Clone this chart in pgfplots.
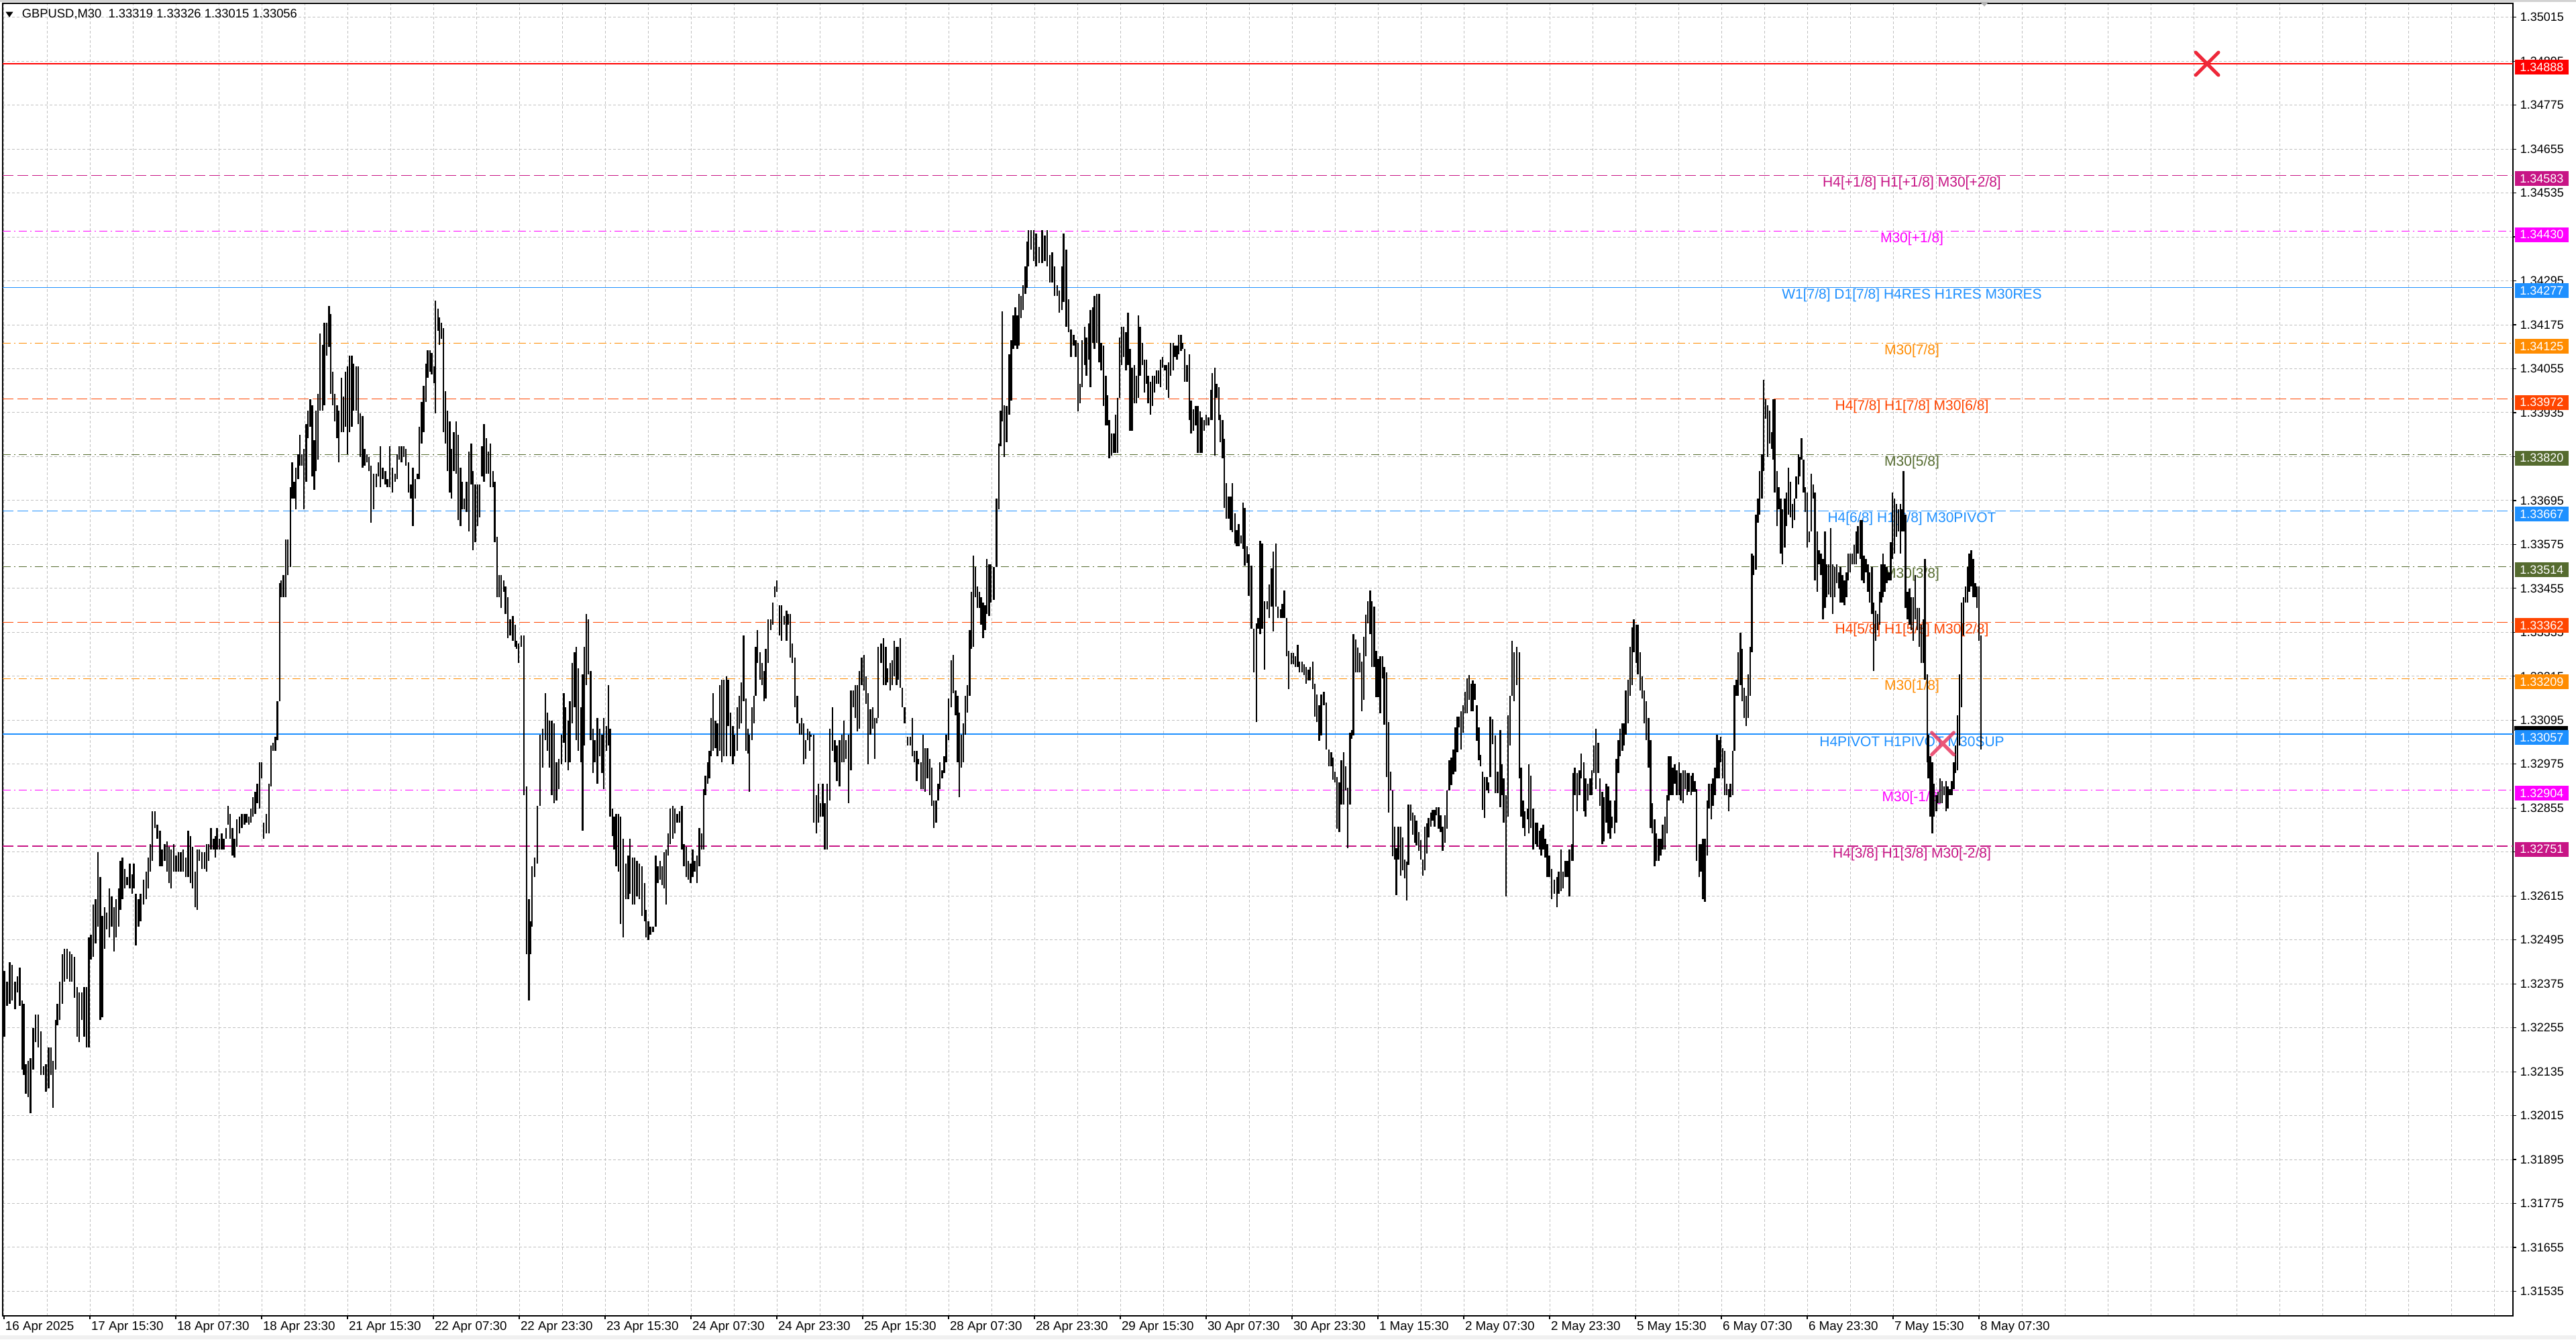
\documentclass[border=0pt]{standalone}
\usepackage{pgfplots}
\usepackage{pgfplotstable}
\pgfplotsset{compat=1.18}
\usepackage{fontspec}
\setmainfont{Liberation Sans}

\definecolor{mvr}{HTML}{C71585}
\definecolor{mag}{HTML}{FF00FF}
\definecolor{dblue}{HTML}{1E90FF}
\definecolor{dorange}{HTML}{FF8C00}
\definecolor{ored}{HTML}{FF4500}
\definecolor{dolive}{HTML}{556B2F}
\definecolor{gridc}{HTML}{C0C0C0}

\newcommand\tickfont{\fontsize{4.5}{5}\selectfont}
\newcommand\xfont{\fontsize{4.7}{5.5}\selectfont}
\newcommand\lvlfont{\fontsize{5.25}{6}\selectfont}

\tikzset{
  lvdash/.style={line width=0.28pt, dash pattern=on 4pt off 1.5pt},
  lvdot/.style={line width=0.28pt, dash pattern=on 3pt off 1.2pt on 0.6pt off 1.2pt},
  lvsolid/.style={line width=0.28pt, solid},
  pbox/.style={anchor=west, minimum width=20pt, minimum height=5.5pt, inner sep=0pt, text=white, font=\tickfont},
}

% GBPUSD M30 bars: x = bar index, hi, lo
\pgfplotstableread{
x hi lo
0.1 1.32411 1.32231
1.1 1.32381 1.32314
2.1 1.32434 1.32321
3.0 1.32426 1.32329
4.1 1.32381 1.32306
5.0 1.32396 1.32351
5.9 1.32419 1.32314
6.7 1.32329 1.32141
7.4 1.32321 1.32126
8.1 1.32156 1.32074
9.0 1.32164 1.32066
9.9 1.32171 1.32021
10.9 1.32254 1.32141
11.8 1.32291 1.32216
12.8 1.32291 1.32201
13.7 1.32246 1.32126
14.8 1.32149 1.32126
15.6 1.32156 1.32081
16.6 1.32201 1.32089
17.5 1.32201 1.32126
18.3 1.32164 1.32036
19.3 1.32276 1.32141
19.9 1.32321 1.32261
20.8 1.32381 1.32276
21.7 1.32456 1.32321
22.5 1.32471 1.32381
23.5 1.32471 1.32389
24.5 1.32464 1.32381
25.3 1.32456 1.32381
26.3 1.32449 1.32336
27.2 1.32366 1.32231
28.0 1.32351 1.32216
29.0 1.32351 1.32276
29.9 1.32366 1.32231
30.8 1.32366 1.32201
31.6 1.32501 1.32201
32.4 1.32509 1.32441
33.2 1.32591 1.32449
34.1 1.32606 1.32486
35.0 1.32734 1.32531
35.9 1.32666 1.32276
36.6 1.32561 1.32284
37.5 1.32584 1.32471
38.3 1.32569 1.32524
39.2 1.32636 1.32501
40.1 1.32614 1.32531
41.0 1.32584 1.32464
41.8 1.32606 1.32501
42.7 1.32636 1.32531
43.4 1.32711 1.32576
44.1 1.32719 1.32606
45.0 1.32689 1.32636
45.9 1.32666 1.32644
46.9 1.32704 1.32636
47.8 1.32674 1.32621
48.4 1.32704 1.32636
49.1 1.32621 1.32479
50.1 1.32606 1.32531
50.9 1.32621 1.32546
52.0 1.32659 1.32591
53.0 1.32681 1.32606
53.8 1.32719 1.32636
54.5 1.32756 1.32681
55.3 1.32846 1.32711
56.2 1.32846 1.32801
57.1 1.32809 1.32771
58.1 1.32794 1.32696
58.9 1.32741 1.32696
59.9 1.32756 1.32711
60.7 1.32764 1.32681
61.5 1.32749 1.32651
62.3 1.32741 1.32636
63.2 1.32756 1.32681
64.1 1.32726 1.32681
65.0 1.32734 1.32681
65.9 1.32734 1.32681
66.8 1.32741 1.32681
67.8 1.32719 1.32666
68.6 1.32794 1.32666
69.5 1.32779 1.32651
70.2 1.32749 1.32636
71.2 1.32681 1.32584
72.0 1.32741 1.32576
72.8 1.32741 1.32711
73.8 1.32734 1.32689
74.7 1.32734 1.32689
75.5 1.32756 1.32681
76.2 1.32756 1.32711
77.1 1.32801 1.32741
78.1 1.32771 1.32741
78.7 1.32779 1.32719
79.4 1.32801 1.32741
80.2 1.32771 1.32741
81.1 1.32786 1.32741
81.9 1.32771 1.32741
82.7 1.32801 1.32771
83.5 1.32861 1.32809
84.2 1.32839 1.32771
85.1 1.32801 1.32726
85.9 1.32771 1.32719
86.8 1.32824 1.32749
87.8 1.32831 1.32786
88.6 1.32839 1.32801
89.6 1.32839 1.32809
90.4 1.32839 1.32816
91.2 1.32831 1.32809
92.0 1.32854 1.32816
92.8 1.32884 1.32831
93.6 1.32899 1.32839
94.4 1.32921 1.32869
95.3 1.32981 1.32854
96.0 1.32981 1.32936
96.8 1.32816 1.32771
97.8 1.32839 1.32786
98.7 1.32921 1.32786
99.5 1.33026 1.32914
100.2 1.33034 1.33011
101.1 1.33049 1.33011
101.9 1.33146 1.33041
102.7 1.33469 1.33146
103.3 1.33476 1.33431
104.1 1.33491 1.33431
105.0 1.33589 1.33431
105.8 1.33589 1.33491
106.7 1.33731 1.33514
107.4 1.33799 1.33701
108.1 1.33746 1.33701
108.8 1.33784 1.33671
109.6 1.33821 1.33754
110.2 1.33874 1.33791
111.0 1.33821 1.33791
111.8 1.33836 1.33671
112.6 1.33904 1.33746
113.3 1.33941 1.33866
114.1 1.33971 1.33896
114.9 1.33956 1.33761
115.6 1.33859 1.33724
116.2 1.33941 1.33776
117.0 1.33986 1.33806
117.7 1.34151 1.33941
118.7 1.34121 1.33941
119.4 1.34181 1.33956
120.2 1.34181 1.34091
121.1 1.34226 1.34114
121.8 1.34204 1.33986
122.5 1.34046 1.33956
123.3 1.33986 1.33911
124.1 1.33956 1.33866
124.8 1.33941 1.33799
125.7 1.34031 1.33881
126.5 1.33979 1.33881
127.2 1.34046 1.33896
128.0 1.34061 1.33821
128.7 1.34091 1.33881
129.6 1.34091 1.33896
130.3 1.34069 1.33941
131.2 1.34061 1.33941
132.0 1.34061 1.33904
132.8 1.33934 1.33814
133.6 1.33926 1.33784
134.4 1.33836 1.33791
135.3 1.33821 1.33799
136.0 1.33814 1.33776
136.8 1.33791 1.33634
137.7 1.33769 1.33671
138.7 1.33769 1.33731
139.5 1.33799 1.33761
140.2 1.33844 1.33731
141.1 1.33784 1.33754
142.1 1.33776 1.33739
142.9 1.33754 1.33731
143.8 1.33844 1.33731
144.7 1.33784 1.33716
145.7 1.33769 1.33746
146.5 1.33821 1.33754
147.3 1.33844 1.33806
148.1 1.33844 1.33799
149.0 1.33844 1.33814
149.8 1.33836 1.33791
150.8 1.33799 1.33716
151.6 1.33739 1.33701
152.4 1.33784 1.33626
153.2 1.33754 1.33701
154.1 1.33769 1.33754
154.8 1.33896 1.33754
155.6 1.33964 1.33851
156.4 1.34009 1.33881
157.2 1.34069 1.33964
157.9 1.34106 1.34031
158.7 1.34106 1.34046
159.4 1.34099 1.34039
160.2 1.34061 1.34016
160.8 1.34241 1.33934
161.7 1.34219 1.34159
162.3 1.34196 1.34121
163.0 1.34181 1.34136
163.8 1.34166 1.33881
164.5 1.33994 1.33851
165.2 1.33941 1.33776
166.1 1.33911 1.33716
166.8 1.33836 1.33701
167.6 1.33881 1.33776
168.5 1.33911 1.33769
169.3 1.33874 1.33641
170.1 1.33784 1.33626
170.8 1.33746 1.33671
171.5 1.33701 1.33671
172.4 1.33746 1.33664
173.2 1.33829 1.33611
174.1 1.33851 1.33739
174.8 1.33776 1.33559
175.6 1.33739 1.33581
176.5 1.33739 1.33626
177.2 1.33739 1.33649
178.1 1.33844 1.33761
178.9 1.33904 1.33746
179.8 1.33866 1.33769
180.5 1.33829 1.33769
181.3 1.33851 1.33731
182.2 1.33776 1.33731
182.9 1.33746 1.33581
183.8 1.33596 1.33431
184.5 1.33491 1.33431
185.3 1.33491 1.33401
186.2 1.33476 1.33446
186.9 1.33461 1.33386
187.8 1.33431 1.33319
188.6 1.33371 1.33326
189.6 1.33379 1.33311
190.5 1.33356 1.33296
191.0 1.33311 1.33289
191.7 1.33304 1.33251
192.8 1.33326 1.33296
193.8 1.33326 1.32891
194.8 1.32914 1.32456
195.6 1.32606 1.32329
196.2 1.32546 1.32456
196.8 1.32696 1.32531
197.8 1.32719 1.32666
198.8 1.32861 1.32704
199.7 1.33056 1.32861
200.7 1.33071 1.32966
201.7 1.33169 1.33041
202.5 1.33116 1.33011
203.3 1.33094 1.32966
204.1 1.33094 1.32891
205.0 1.33086 1.32869
205.9 1.32981 1.32876
206.8 1.32989 1.32906
207.7 1.33056 1.32974
208.6 1.33169 1.33034
209.2 1.33131 1.32981
210.2 1.33094 1.32959
210.9 1.33146 1.32981
211.7 1.33251 1.33086
212.6 1.33281 1.33131
213.3 1.33296 1.33041
214.0 1.33236 1.33011
215.0 1.33131 1.32981
215.6 1.33221 1.32794
216.2 1.33296 1.33026
217.0 1.33386 1.33191
217.8 1.33371 1.33221
218.6 1.33229 1.33041
219.5 1.33071 1.32951
220.1 1.33041 1.32981
221.1 1.33101 1.32921
222.0 1.33071 1.32996
222.9 1.33056 1.32951
223.5 1.33101 1.32906
224.5 1.33079 1.33011
225.3 1.33191 1.33026
225.9 1.33071 1.32831
226.7 1.32854 1.32779
227.4 1.32831 1.32741
228.1 1.32839 1.32696
229.0 1.32839 1.32681
229.8 1.32831 1.32539
230.8 1.32771 1.32501
231.7 1.32704 1.32606
232.6 1.32726 1.32606
233.3 1.32771 1.32621
234.2 1.32719 1.32591
235.0 1.32719 1.32591
235.9 1.32711 1.32614
236.8 1.32704 1.32606
237.7 1.32696 1.32561
238.7 1.32651 1.32546
239.3 1.32576 1.32501
240.1 1.32546 1.32494
240.9 1.32531 1.32509
241.9 1.32531 1.32516
242.9 1.32726 1.32531
243.6 1.32696 1.32651
244.5 1.32711 1.32659
245.3 1.32696 1.32644
246.0 1.32734 1.32636
246.8 1.32741 1.32591
247.5 1.32786 1.32726
248.3 1.32854 1.32756
249.2 1.32861 1.32771
250.0 1.32854 1.32786
250.9 1.32839 1.32816
251.7 1.32846 1.32816
252.6 1.32861 1.32741
253.4 1.32756 1.32696
254.2 1.32749 1.32666
255.0 1.32711 1.32659
255.9 1.32704 1.32651
256.6 1.32741 1.32666
257.4 1.32711 1.32681
258.3 1.32726 1.32651
259.1 1.32801 1.32696
260.0 1.32786 1.32741
260.7 1.32906 1.32741
261.4 1.32944 1.32891
262.3 1.32981 1.32921
262.9 1.33011 1.32936
263.5 1.33101 1.32996
264.3 1.33169 1.33011
265.1 1.33094 1.33019
265.9 1.33086 1.32996
266.8 1.33191 1.33011
267.5 1.33206 1.32981
268.3 1.33206 1.32996
269.2 1.33214 1.32996
269.9 1.33206 1.33079
270.8 1.33116 1.32996
271.6 1.33079 1.32974
272.3 1.33056 1.32996
273.2 1.33131 1.33011
274.0 1.33161 1.33071
274.8 1.33199 1.33086
275.6 1.33326 1.33146
276.5 1.33154 1.33011
277.2 1.33071 1.33004
277.8 1.33056 1.32899
278.7 1.33131 1.33041
279.5 1.33161 1.33086
280.1 1.33296 1.33161
280.8 1.33341 1.33251
281.7 1.33281 1.33206
282.5 1.33251 1.33191
283.3 1.33229 1.33146
283.9 1.33289 1.33154
284.7 1.33371 1.33251
285.7 1.33371 1.33341
286.5 1.33416 1.33356
287.3 1.33461 1.33431
288.0 1.33476 1.33446
289.0 1.33409 1.33326
289.8 1.33409 1.33311
290.8 1.33379 1.33356
291.6 1.33394 1.33311
292.3 1.33386 1.33356
293.0 1.33386 1.33266
293.8 1.33304 1.33251
294.8 1.33266 1.33131
295.6 1.33161 1.33086
296.5 1.33086 1.33056
297.2 1.33101 1.33056
298.0 1.33086 1.32974
298.7 1.33041 1.32989
299.5 1.33071 1.33041
300.2 1.33064 1.33011
300.8 1.33056 1.33049
301.7 1.33056 1.32816
302.7 1.32891 1.32786
303.5 1.32921 1.32816
304.3 1.32869 1.32831
305.1 1.32921 1.32831
305.9 1.32869 1.32741
306.8 1.32921 1.32741
307.7 1.33071 1.32876
308.7 1.33131 1.33011
309.6 1.33041 1.32981
310.4 1.33026 1.32929
311.4 1.33041 1.32914
312.2 1.33056 1.32981
313.0 1.33094 1.32981
313.8 1.33041 1.32989
314.7 1.33056 1.32869
315.6 1.33176 1.32959
316.5 1.33176 1.33131
317.2 1.33191 1.33101
318.0 1.33191 1.33064
318.8 1.33229 1.33071
319.6 1.33266 1.33191
320.5 1.33274 1.33176
321.3 1.33214 1.33139
322.0 1.33169 1.32974
322.9 1.33124 1.33056
323.7 1.33131 1.33071
324.5 1.33101 1.32989
325.3 1.33101 1.33086
325.8 1.33296 1.33101
326.9 1.33304 1.33251
327.7 1.33319 1.33191
328.6 1.33296 1.33191
329.3 1.33236 1.33199
330.2 1.33251 1.33176
331.0 1.33259 1.33191
331.7 1.33311 1.33214
332.6 1.33296 1.33191
333.3 1.33296 1.33206
334.0 1.33319 1.33184
334.8 1.33184 1.33131
335.6 1.33131 1.33086
336.8 1.33049 1.33026
337.7 1.33049 1.33026
338.5 1.33101 1.32996
339.3 1.33011 1.32981
340.1 1.33011 1.32929
340.8 1.32989 1.32974
341.7 1.32981 1.32906
342.5 1.33056 1.32906
343.3 1.33019 1.32899
344.1 1.33019 1.32936
345.0 1.32989 1.32891
345.8 1.32966 1.32861
346.5 1.32876 1.32801
347.4 1.32876 1.32816
348.1 1.32921 1.32876
348.8 1.32981 1.32906
349.6 1.32959 1.32936
350.4 1.32996 1.32951
351.1 1.33056 1.32981
352.0 1.33154 1.33041
353.0 1.33259 1.33131
353.8 1.33274 1.33169
354.6 1.33176 1.33109
355.4 1.33161 1.32981
356.0 1.33116 1.32884
356.8 1.33056 1.32966
357.5 1.33086 1.32981
358.3 1.33161 1.33056
359.0 1.33191 1.33116
359.9 1.33341 1.33161
360.5 1.33446 1.33289
361.2 1.33544 1.33296
362.0 1.33514 1.33431
362.7 1.33461 1.33401
363.5 1.33446 1.33401
364.1 1.33431 1.33356
364.9 1.33416 1.33319
365.6 1.33409 1.33341
366.3 1.33536 1.33386
367.1 1.33521 1.33379
367.7 1.33521 1.33416
368.9 1.33514 1.33424
369.9 1.33701 1.33514
370.8 1.33851 1.33671
371.4 1.33941 1.33844
372.0 1.34211 1.33911
372.8 1.33956 1.33814
373.6 1.33953 1.33855
374.6 1.34095 1.33930
375.4 1.34133 1.33968
376.1 1.34200 1.34110
376.9 1.34223 1.34118
377.6 1.34200 1.34110
378.2 1.34260 1.34118
379.0 1.34253 1.34193
379.8 1.34283 1.34215
380.6 1.34335 1.34260
381.3 1.34403 1.34275
381.8 1.34433 1.34335
382.8 1.34433 1.34380
383.8 1.34433 1.34350
384.6 1.34425 1.34335
385.7 1.34388 1.34343
386.9 1.34433 1.34343
387.9 1.34418 1.34350
388.7 1.34433 1.34335
389.7 1.34365 1.34290
390.6 1.34373 1.34290
391.5 1.34335 1.34253
392.5 1.34283 1.34253
393.3 1.34268 1.34208
394.2 1.34335 1.34215
394.9 1.34425 1.34238
395.9 1.34380 1.34170
396.7 1.34245 1.34155
397.6 1.34163 1.34088
398.6 1.34148 1.34118
399.4 1.34133 1.34088
400.3 1.34125 1.33938
401.0 1.34013 1.33960
401.8 1.34133 1.34005
402.7 1.34170 1.34065
403.4 1.34140 1.34035
404.3 1.34178 1.34080
404.9 1.34215 1.34005
405.7 1.34223 1.34125
406.4 1.34253 1.34110
407.3 1.34260 1.34125
408.1 1.34260 1.34073
408.9 1.34125 1.34050
409.7 1.34118 1.33953
410.6 1.34035 1.33900
411.2 1.33983 1.33900
411.9 1.33915 1.33810
412.7 1.33878 1.33818
413.6 1.33878 1.33825
414.3 1.33930 1.33825
415.0 1.33975 1.33825
415.8 1.34140 1.33975
416.5 1.34170 1.34065
417.3 1.34170 1.34088
418.1 1.34155 1.34050
418.9 1.34208 1.34065
419.6 1.34110 1.33885
420.4 1.34058 1.33885
421.2 1.34065 1.33960
422.0 1.34035 1.33960
422.7 1.34200 1.33975
423.4 1.34170 1.34035
424.3 1.34125 1.34065
425.0 1.34080 1.33990
425.7 1.34080 1.34013
426.4 1.34035 1.33960
427.2 1.34020 1.33930
428.0 1.34035 1.33953
428.7 1.34035 1.33990
429.5 1.34050 1.34013
430.2 1.34050 1.34013
431.0 1.34080 1.34005
431.8 1.34088 1.34058
432.6 1.34065 1.34050
433.2 1.34065 1.33998
434.0 1.34073 1.33975
434.8 1.34125 1.34035
435.7 1.34125 1.34050
436.4 1.34118 1.34088
437.1 1.34118 1.34080
437.8 1.34148 1.34095
438.6 1.34148 1.34103
439.3 1.34125 1.34110
440.0 1.34110 1.34020
440.9 1.34065 1.34020
441.7 1.34095 1.33915
442.4 1.33968 1.33878
443.3 1.33945 1.33885
444.1 1.33953 1.33900
444.9 1.33953 1.33825
445.7 1.33938 1.33825
446.4 1.33923 1.33825
447.3 1.33915 1.33885
448.0 1.33930 1.33900
448.9 1.33923 1.33900
449.7 1.33998 1.33915
450.3 1.34043 1.33915
451.2 1.34058 1.33818
451.9 1.34013 1.33975
452.7 1.34005 1.33915
453.3 1.33930 1.33855
454.1 1.33915 1.33810
454.8 1.33863 1.33675
455.5 1.33743 1.33645
456.4 1.33705 1.33645
457.1 1.33705 1.33615
457.8 1.33743 1.33608
458.7 1.33660 1.33578
459.4 1.33615 1.33570
460.1 1.33630 1.33570
461.0 1.33600 1.33578
461.8 1.33690 1.33563
462.4 1.33675 1.33518
463.3 1.33570 1.33525
463.9 1.33548 1.33435
464.9 1.33518 1.33345
465.7 1.33345 1.33225
466.7 1.33360 1.33090
467.4 1.33375 1.33345
468.1 1.33585 1.33330
468.9 1.33578 1.33345
469.8 1.33420 1.33233
470.7 1.33420 1.33398
471.5 1.33465 1.33375
472.4 1.33510 1.33405
473.0 1.33555 1.33338
474.0 1.33578 1.33405
474.8 1.33405 1.33375
475.7 1.33398 1.33375
476.4 1.33413 1.33375
477.1 1.33450 1.33375
478.0 1.33375 1.33270
478.8 1.33285 1.33180
479.7 1.33278 1.33248
480.5 1.33278 1.33248
481.2 1.33270 1.33240
482.1 1.33300 1.33240
482.8 1.33255 1.33225
483.7 1.33255 1.33225
484.5 1.33248 1.33218
485.2 1.33240 1.33195
486.1 1.33233 1.33203
486.8 1.33240 1.33203
487.7 1.33255 1.33180
488.5 1.33195 1.33105
489.3 1.33165 1.33090
490.1 1.33135 1.33038
490.9 1.33165 1.33053
491.9 1.33173 1.33135
492.7 1.33143 1.33015
493.7 1.33015 1.32970
494.6 1.33008 1.32970
495.3 1.32993 1.32933
496.0 1.32955 1.32925
496.7 1.32940 1.32798
497.6 1.32925 1.32790
498.4 1.32985 1.32865
499.2 1.33008 1.32865
500.0 1.32970 1.32903
500.7 1.32910 1.32745
501.6 1.33060 1.32865
502.2 1.33068 1.33045
502.9 1.33330 1.33053
503.7 1.33315 1.33225
504.5 1.33293 1.33225
505.2 1.33278 1.33225
506.0 1.33255 1.33120
506.7 1.33323 1.33150
507.5 1.33383 1.33270
508.3 1.33420 1.33360
509.1 1.33450 1.33330
509.8 1.33420 1.33240
510.6 1.33405 1.33240
511.4 1.33285 1.33158
512.1 1.33263 1.33158
512.9 1.33270 1.33113
513.7 1.33270 1.33210
514.4 1.33240 1.33083
515.2 1.33225 1.32940
516.0 1.33090 1.32843
516.8 1.32955 1.32903
517.5 1.32903 1.32723
518.3 1.32805 1.32715
518.9 1.32745 1.32618
519.6 1.32805 1.32715
520.5 1.32805 1.32670
521.2 1.32775 1.32685
522.0 1.32715 1.32663
522.7 1.32708 1.32603
523.4 1.32865 1.32700
524.3 1.32865 1.32820
525.0 1.32843 1.32783
525.7 1.32835 1.32760
526.4 1.32820 1.32753
527.2 1.32790 1.32738
528.0 1.32768 1.32715
528.7 1.32715 1.32670
529.5 1.32805 1.32685
530.2 1.32813 1.32730
530.9 1.32828 1.32775
531.7 1.32843 1.32805
532.4 1.32850 1.32820
533.1 1.32850 1.32805
533.8 1.32858 1.32835
534.6 1.32858 1.32798
535.4 1.32835 1.32790
536.1 1.32805 1.32738
537.0 1.32835 1.32760
537.8 1.32903 1.32798
538.6 1.32985 1.32903
539.4 1.32993 1.32918
540.1 1.33015 1.32948
540.9 1.33075 1.32955
541.6 1.33105 1.33008
542.3 1.33105 1.33075
543.0 1.33120 1.33015
543.8 1.33135 1.33060
544.5 1.33173 1.33113
545.2 1.33210 1.33113
546.0 1.33218 1.33150
546.7 1.33195 1.33120
547.4 1.33203 1.33120
548.1 1.33195 1.33150
548.9 1.33135 1.33038
549.6 1.33075 1.32985
550.3 1.33000 1.32970
551.0 1.32955 1.32850
551.8 1.32940 1.32828
552.6 1.32940 1.32903
553.3 1.32925 1.32895
553.9 1.33105 1.32940
554.8 1.33098 1.33030
555.8 1.33053 1.32895
556.6 1.32955 1.32895
557.6 1.33068 1.32858
558.3 1.32974 1.32891
558.9 1.32936 1.32816
559.8 1.32891 1.32614
560.5 1.33109 1.32831
561.3 1.33161 1.33026
562.0 1.33311 1.33161
562.8 1.33281 1.33146
563.8 1.33296 1.33191
564.7 1.33281 1.32936
565.4 1.32966 1.32831
566.1 1.32876 1.32801
566.8 1.32846 1.32779
567.7 1.32854 1.32824
568.3 1.32974 1.32786
569.0 1.32944 1.32801
569.9 1.32854 1.32741
570.7 1.32816 1.32756
571.4 1.32816 1.32749
572.2 1.32794 1.32741
572.9 1.32801 1.32726
573.6 1.32809 1.32741
574.4 1.32771 1.32719
575.1 1.32756 1.32666
575.9 1.32726 1.32666
576.8 1.32689 1.32606
577.7 1.32659 1.32621
578.7 1.32666 1.32584
579.4 1.32681 1.32621
580.2 1.32741 1.32629
581.0 1.32681 1.32636
581.9 1.32711 1.32666
582.6 1.32711 1.32666
583.4 1.32741 1.32614
584.2 1.32756 1.32711
584.8 1.32951 1.32711
585.4 1.32966 1.32891
586.2 1.32951 1.32846
587.1 1.32959 1.32891
587.8 1.33004 1.32936
588.7 1.32981 1.32846
589.4 1.32936 1.32831
590.2 1.32921 1.32876
591.1 1.32936 1.32891
591.8 1.32959 1.32891
592.5 1.33026 1.32951
593.3 1.33071 1.32906
594.1 1.33034 1.32951
594.8 1.32936 1.32861
595.6 1.32899 1.32756
596.3 1.32884 1.32764
597.1 1.32921 1.32816
597.9 1.32914 1.32786
598.6 1.32876 1.32771
599.3 1.32831 1.32801
600.2 1.32876 1.32786
600.9 1.32989 1.32816
601.6 1.33041 1.32951
602.3 1.33071 1.32996
603.1 1.33086 1.33011
603.7 1.33086 1.33026
604.4 1.33176 1.33056
605.3 1.33206 1.33086
606.0 1.33296 1.33161
606.7 1.33349 1.33191
607.4 1.33371 1.33281
608.2 1.33356 1.33251
608.9 1.33356 1.33221
609.7 1.33281 1.33176
610.5 1.33214 1.33154
611.3 1.33176 1.33086
612.0 1.33146 1.33041
612.9 1.33101 1.32966
613.6 1.33041 1.32801
614.3 1.32869 1.32786
615.1 1.32824 1.32696
615.8 1.32786 1.32711
616.6 1.32771 1.32711
617.4 1.32771 1.32726
618.1 1.32809 1.32741
619.0 1.32831 1.32741
619.7 1.32891 1.32786
620.4 1.32996 1.32876
621.1 1.32996 1.32891
621.9 1.32966 1.32891
622.6 1.32974 1.32921
623.4 1.32959 1.32891
624.2 1.32981 1.32891
624.9 1.32951 1.32876
625.7 1.32959 1.32869
626.5 1.32959 1.32906
627.2 1.32951 1.32891
627.9 1.32951 1.32899
628.7 1.32944 1.32891
629.4 1.32951 1.32899
630.1 1.32929 1.32899
630.8 1.32906 1.32711
631.7 1.32756 1.32666
632.4 1.32756 1.32681
633.1 1.32771 1.32606
633.9 1.32771 1.32599
634.7 1.32876 1.32726
635.4 1.32921 1.32854
636.2 1.32921 1.32824
636.9 1.32936 1.32861
637.6 1.32966 1.32891
638.4 1.33056 1.32936
639.1 1.33041 1.32936
639.8 1.33049 1.32981
640.5 1.33019 1.32936
641.3 1.33011 1.32891
642.0 1.32921 1.32891
642.7 1.32906 1.32846
643.4 1.32921 1.32884
644.2 1.33011 1.32891
644.9 1.33191 1.33011
645.6 1.33206 1.33161
646.3 1.33281 1.33161
647.1 1.33334 1.33191
647.8 1.33289 1.33146
648.5 1.33184 1.33101
649.3 1.33161 1.33079
650.0 1.33221 1.33101
650.7 1.33296 1.33161
651.4 1.33551 1.33281
652.0 1.33544 1.33491
652.9 1.33656 1.33506
653.6 1.33701 1.33634
654.3 1.33776 1.33656
655.1 1.33821 1.33701
655.8 1.34024 1.33776
656.5 1.33971 1.33919
657.3 1.33956 1.33814
658.0 1.33941 1.33851
658.7 1.33881 1.33836
659.2 1.33971 1.33806
659.9 1.33971 1.33716
660.7 1.33776 1.33626
661.4 1.33731 1.33671
662.1 1.33701 1.33551
662.8 1.33671 1.33521
663.6 1.33701 1.33566
664.3 1.33716 1.33626
665.0 1.33784 1.33656
665.7 1.33746 1.33649
666.5 1.33686 1.33619
667.2 1.33701 1.33641
667.9 1.33761 1.33701
668.7 1.33821 1.33739
669.3 1.33814 1.33761
669.9 1.33866 1.33806
670.6 1.33806 1.33716
671.3 1.33731 1.33664
672.0 1.33716 1.33566
672.8 1.33611 1.33581
673.5 1.33769 1.33611
674.2 1.33739 1.33701
674.9 1.33716 1.33476
675.7 1.33611 1.33446
676.4 1.33559 1.33521
677.1 1.33551 1.33491
677.9 1.33536 1.33371
678.6 1.33611 1.33401
679.3 1.33521 1.33431
680.0 1.33521 1.33439
680.8 1.33619 1.33431
681.5 1.33521 1.33386
682.2 1.33514 1.33431
683.0 1.33521 1.33469
683.7 1.33499 1.33454
684.4 1.33514 1.33416
685.1 1.33491 1.33416
685.9 1.33476 1.33409
686.6 1.33499 1.33431
687.3 1.33551 1.33476
688.0 1.33551 1.33499
688.8 1.33551 1.33521
689.5 1.33574 1.33521
690.2 1.33611 1.33521
690.9 1.33626 1.33551
691.7 1.33641 1.33536
692.4 1.33641 1.33476
693.1 1.33544 1.33469
693.9 1.33536 1.33499
694.6 1.33521 1.33446
695.3 1.33499 1.33416
696.1 1.33514 1.33386
696.8 1.33416 1.33229
697.5 1.33394 1.33311
698.2 1.33386 1.33341
699.0 1.33446 1.33356
699.6 1.33521 1.33416
700.2 1.33551 1.33431
700.9 1.33521 1.33446
701.6 1.33514 1.33469
702.4 1.33499 1.33476
703.1 1.33581 1.33476
703.8 1.33716 1.33536
704.5 1.33701 1.33551
705.3 1.33686 1.33596
706.0 1.33671 1.33611
706.7 1.33686 1.33551
707.4 1.33671 1.33611
707.9 1.33776 1.33611
708.6 1.33656 1.33401
709.4 1.33446 1.33371
710.1 1.33454 1.33356
710.8 1.33431 1.33341
711.5 1.33431 1.33311
712.3 1.33491 1.33371
713.0 1.33401 1.33341
713.7 1.33401 1.33296
714.5 1.33356 1.33251
715.2 1.33371 1.33251
715.9 1.33536 1.33206
716.7 1.33221 1.32981
717.1 1.33056 1.32936
717.9 1.32996 1.32831
718.6 1.32981 1.32786
719.3 1.32921 1.32831
720.1 1.32891 1.32846
720.8 1.32899 1.32869
721.5 1.32936 1.32869
722.2 1.32929 1.32869
723.0 1.32914 1.32891
723.7 1.32929 1.32846
724.4 1.32914 1.32854
725.1 1.32906 1.32891
725.9 1.32929 1.32891
726.6 1.32981 1.32906
727.3 1.33026 1.32951
728.0 1.33109 1.32959
728.8 1.33221 1.33026
729.5 1.33416 1.33131
730.2 1.33431 1.33326
731.0 1.33461 1.33416
731.7 1.33514 1.33416
732.4 1.33551 1.33446
733.1 1.33559 1.33461
733.9 1.33536 1.33431
734.6 1.33469 1.33431
735.3 1.33461 1.33401
736.0 1.33461 1.33311
736.8 1.33326 1.33015
}\candles

\begin{document}
\begin{tikzpicture}
\path[use as bounding box] (0,0) rectangle (960pt,499pt);
\fill[white] (0,0) rectangle (960pt,499pt);
\fill[gray!35] (0,498.2pt) rectangle (960pt,499pt);
\fill[gray!12] (0,0) rectangle (960pt,1.4pt);

\begin{axis}[
  at={(1pt,8.75pt)}, anchor=south west,
  scale only axis, width=935.5pt, height=489pt,
  xmin=-0.5, xmax=935, ymin=1.31468, ymax=1.35053,
  axis line style={line width=0.3pt, black},
  tick align=outside,
  xtick pos=left, ytick pos=right, yticklabel pos=right,
  major tick length=1.2pt, minor tick length=0pt,
  tick style={line width=0.3pt, black},
  xtick={0,32,...,736},
  xticklabels={16 Apr 2025,17 Apr 15:30,18 Apr 07:30,18 Apr 23:30,21 Apr 15:30,22 Apr 07:30,22 Apr 23:30,23 Apr 15:30,24 Apr 07:30,24 Apr 23:30,25 Apr 15:30,28 Apr 07:30,28 Apr 23:30,29 Apr 15:30,30 Apr 07:30,30 Apr 23:30,1 May 15:30,2 May 07:30,2 May 23:30,5 May 15:30,6 May 07:30,6 May 23:30,7 May 15:30,8 May 07:30},
  minor xtick={16,32,...,928},
  ytick={1.31535,1.31655,1.31775,1.31895,1.32015,1.32135,1.32255,1.32375,1.32495,1.32615,1.32735,1.32855,1.32975,1.33095,1.33215,1.33335,1.33455,1.33575,1.33695,1.33815,1.33935,1.34055,1.34175,1.34295,1.34415,1.34535,1.34655,1.34775,1.34895,1.35015},
  yticklabels={1.31535,1.31655,1.31775,1.31895,1.32015,1.32135,1.32255,1.32375,1.32495,1.32615,{},1.32855,1.32975,1.33095,1.33215,1.33335,1.33455,1.33575,1.33695,1.33815,1.33935,1.34055,1.34175,1.34295,{},1.34535,1.34655,1.34775,1.34895,1.35015},
  xmajorgrids, xminorgrids, ymajorgrids,
  major grid style={gridc, line width=0.25pt, dash pattern=on 1pt off 0.75pt},
  minor grid style={gridc, line width=0.25pt, dash pattern=on 1pt off 0.75pt},
  xticklabel style={anchor=north west, inner xsep=0.3pt, inner ysep=0.8pt, font=\xfont},
  yticklabel style={anchor=west, inner sep=0pt, xshift=1.3pt, font=\tickfont},
]

% level lines
\addplot[forget plot, red, line width=0.35pt] coordinates {(-0.5,1.34888) (935,1.34888)};
\addplot[forget plot, mvr, lvdash] coordinates {(-0.5,1.34583) (935,1.34583)};
\addplot[forget plot, mag, lvdot] coordinates {(-0.5,1.34430) (935,1.34430)};
\addplot[forget plot, dblue, lvsolid] coordinates {(-0.5,1.34277) (935,1.34277)};
\addplot[forget plot, dorange, lvdot] coordinates {(-0.5,1.34125) (935,1.34125)};
\addplot[forget plot, ored, lvdash] coordinates {(-0.5,1.33972) (935,1.33972)};
\addplot[forget plot, dolive, lvdot] coordinates {(-0.5,1.33820) (935,1.33820)};
\addplot[forget plot, dblue, lvdash] coordinates {(-0.5,1.33667) (935,1.33667)};
\addplot[forget plot, dolive, lvdot] coordinates {(-0.5,1.33514) (935,1.33514)};
\addplot[forget plot, ored, lvdash] coordinates {(-0.5,1.33362) (935,1.33362)};
\addplot[forget plot, dorange, lvdot] coordinates {(-0.5,1.33209) (935,1.33209)};
\addplot[forget plot, dblue, lvsolid] coordinates {(-0.5,1.33057) (935,1.33057)};
\addplot[forget plot, mag, lvdot] coordinates {(-0.5,1.32904) (935,1.32904)};
\addplot[forget plot, mvr, lvdash] coordinates {(-0.5,1.32751) (935,1.32751)};

% level captions
\begin{scope}[every node/.style={font=\lvlfont, inner sep=0pt, yshift=-2.9pt}]
\node[text=mvr] at (axis cs:711,1.34583) {H4[+1/8] H1[+1/8] M30[+2/8]};
\node[text=mag] at (axis cs:711,1.34430) {M30[+1/8]};
\node[text=dblue] at (axis cs:711,1.34277) {W1[7/8] D1[7/8] H4RES H1RES M30RES};
\node[text=dorange] at (axis cs:711,1.34125) {M30[7/8]};
\node[text=ored] at (axis cs:711,1.33972) {H4[7/8] H1[7/8] M30[6/8]};
\node[text=dolive] at (axis cs:711,1.33820) {M30[5/8]};
\node[text=dblue] at (axis cs:711,1.33667) {H4[6/8] H1[6/8] M30PIVOT};
\node[text=dolive] at (axis cs:711,1.33514) {M30[3/8]};
\node[text=ored] at (axis cs:711,1.33362) {H4[5/8] H1[5/8] M30[2/8]};
\node[text=dorange] at (axis cs:711,1.33209) {M30[1/8]};
\node[text=dblue] at (axis cs:711,1.33057) {H4PIVOT H1PIVOT M30SUP};
\node[text=mag] at (axis cs:711,1.32904) {M30[-1/8]};
\node[text=mvr] at (axis cs:711,1.32751) {H4[3/8] H1[3/8] M30[-2/8]};
\end{scope}

% bars, high to low
\addplot[forget plot, draw=none, no markers,
  error bars/.cd, y dir=plus, y explicit, error mark=none,
  error bar style={draw=black, line width=0.6pt, solid}]
  table[x=x, y=lo, y error expr=\thisrow{hi}-\thisrow{lo}] {\candles};

% cross markers
\addplot[forget plot, only marks, mark=x, mark size=6pt,
  mark options={draw={rgb,255:red,238;green,40;blue,58}, line width=1.25pt, line cap=round}]
  coordinates {(821,1.34888)};
\addplot[forget plot, only marks, mark=x, mark size=5.8pt,
  mark options={draw={rgb,255:red,232;green,58;blue,98}, line width=1.3pt, line cap=round, opacity=0.85}]
  coordinates {(722.5,1.33031)};

\coordinate (b1) at (axis cs:935,1.34888);
\coordinate (b2) at (axis cs:935,1.34583);
\coordinate (b3) at (axis cs:935,1.34430);
\coordinate (b4) at (axis cs:935,1.34277);
\coordinate (b5) at (axis cs:935,1.34125);
\coordinate (b6) at (axis cs:935,1.33972);
\coordinate (b7) at (axis cs:935,1.33820);
\coordinate (b8) at (axis cs:935,1.33667);
\coordinate (b9) at (axis cs:935,1.33514);
\coordinate (b10) at (axis cs:935,1.33362);
\coordinate (b11) at (axis cs:935,1.33209);
\coordinate (b12) at (axis cs:935,1.33057);
\coordinate (b13) at (axis cs:935,1.32904);
\coordinate (b14) at (axis cs:935,1.32751);
\end{axis}

% price boxes on the right scale
\fill[black] ([xshift=0.5pt,yshift=1.3pt]b12) rectangle ++(20pt,1.7pt);
\begin{scope}[every node/.style={yshift=-1.2pt}]
\node[pbox, fill=red] at ([xshift=0.5pt]b1) {1.34888};
\node[pbox, fill=mvr] at ([xshift=0.5pt]b2) {1.34583};
\node[pbox, fill=mag] at ([xshift=0.5pt]b3) {1.34430};
\node[pbox, fill=dblue] at ([xshift=0.5pt]b4) {1.34277};
\node[pbox, fill=dorange] at ([xshift=0.5pt]b5) {1.34125};
\node[pbox, fill=ored] at ([xshift=0.5pt]b6) {1.33972};
\node[pbox, fill=dolive] at ([xshift=0.5pt]b7) {1.33820};
\node[pbox, fill=dblue] at ([xshift=0.5pt]b8) {1.33667};
\node[pbox, fill=dolive] at ([xshift=0.5pt]b9) {1.33514};
\node[pbox, fill=ored] at ([xshift=0.5pt]b10) {1.33362};
\node[pbox, fill=dorange] at ([xshift=0.5pt]b11) {1.33209};
\node[pbox, fill=dblue] at ([xshift=0.5pt]b12) {1.33057};
\node[pbox, fill=mag] at ([xshift=0.5pt]b13) {1.32904};
\node[pbox, fill=mvr] at ([xshift=0.5pt]b14) {1.32751};
\end{scope}

% title
\fill[black] (2.1pt,494.6pt) -- (4.9pt,494.6pt) -- (3.5pt,492.6pt) -- cycle;
\node[anchor=west, inner sep=0pt, font=\fontsize{4.6}{5.5}\selectfont] at (8pt,493.6pt)
  {GBPUSD,M30\ \ 1.33319 1.33326 1.33015 1.33056};
% chart shift marker
\fill[gray!60] (738pt,498.2pt) -- (741pt,498.2pt) -- (739.5pt,496.6pt) -- cycle;
\end{tikzpicture}
\end{document}
